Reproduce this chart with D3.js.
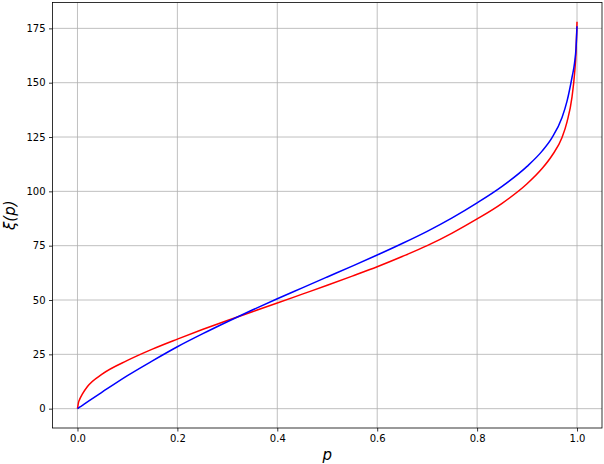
<!DOCTYPE html>
<html><head><meta charset="utf-8">
<script src="https://cdn.jsdelivr.net/npm/d3@7"></script>
<style>body{margin:0;background:#fff}svg{display:block}text{font-family:"DejaVu Sans",sans-serif}</style>
</head><body><svg id="c" width="604" height="464"></svg>
<script>
const pGrid = [0,0.002,0.005,0.01,0.02,0.05,0.1,0.15,0.2,0.25,0.3,0.35,0.4,0.45,0.5,0.55,0.6,0.65,0.7,0.75,0.8,0.85,0.9,0.93,0.95,0.97,0.98,0.99,0.995,0.998,1];
const redVals = [0,2.8,4.6,6.8,10.2,16,22.2,27.4,32,36.4,40.6,44.6,48.6,52.7,56.8,61,65.3,70,75,80.8,87.3,94.5,103.5,110.5,116.5,124.8,132,143.5,154,164,178];
const blueVals = [0,0.3,0.8,1.5,3.1,7.7,15.2,22,28.5,34.4,40,45.4,50.6,55.6,60.6,65.6,70.7,76,81.6,87.8,94.7,102.3,111.5,118.5,124.7,134,141.5,152.5,159,166,176];
const xTicks = [0,0.2,0.4,0.6,0.8,1.0];
const yTicks = [0,25,50,75,100,125,150,175];

const svg = d3.select("#c");
const L=52.5,R=602,T=2.5,B=428;
const x = d3.scaleLinear().domain([-0.05,1.05]).range([L,R]);
const y = d3.scaleLinear().domain([-8.9,186.9]).range([B,T]);

// grid
svg.append("g").selectAll("line").data(xTicks).join("line")
  .attr("x1",d=>x(d)).attr("x2",d=>x(d)).attr("y1",T).attr("y2",B)
  .attr("stroke","#b0b0b0").attr("stroke-width",0.8);
svg.append("g").selectAll("line").data(yTicks).join("line")
  .attr("y1",d=>y(d)).attr("y2",d=>y(d)).attr("x1",L).attr("x2",R)
  .attr("stroke","#b0b0b0").attr("stroke-width",0.8);

const line = (vals)=>d3.line().x((d,i)=>x(pGrid[i])).y(d=>y(d)).curve(d3.curveMonotoneX)(vals);
svg.append("path").attr("d",line(redVals)).attr("fill","none").attr("stroke","#ff0000").attr("stroke-width",1.5);
svg.append("path").attr("d",line(blueVals)).attr("fill","none").attr("stroke","#0000ff").attr("stroke-width",1.5);

// axes
const xa = svg.append("g").attr("transform",`translate(0,${B})`)
  .call(d3.axisBottom(x).tickValues(xTicks).tickFormat(d3.format(".1f")).tickSizeOuter(0).tickSize(3.5).tickPadding(3.5));
const ya = svg.append("g").attr("transform",`translate(${L},0)`)
  .call(d3.axisLeft(y).tickValues(yTicks).tickFormat(d3.format("d")).tickSizeOuter(0).tickSize(3.5).tickPadding(3.5));
[xa,ya].forEach(a=>{a.select(".domain").remove();a.selectAll("line").attr("stroke","#000").attr("stroke-width",0.8);
  a.selectAll("text").attr("font-size",10).attr("font-family","DejaVu Sans").attr("fill","#000");});

svg.append("rect").attr("x",L).attr("y",T).attr("width",R-L).attr("height",B-T)
  .attr("fill","none").attr("stroke","#000").attr("stroke-width",0.8);

svg.append("text").attr("x",(L+R)/2).attr("y",460).attr("text-anchor","middle")
  .attr("font-size",15).attr("font-style","italic").text("p");
svg.append("text").attr("transform",`translate(15,${(T+B)/2}) rotate(-90)`).attr("text-anchor","middle")
  .attr("font-size",15).attr("font-style","italic").text("ξ(p)");
</script></body></html>
